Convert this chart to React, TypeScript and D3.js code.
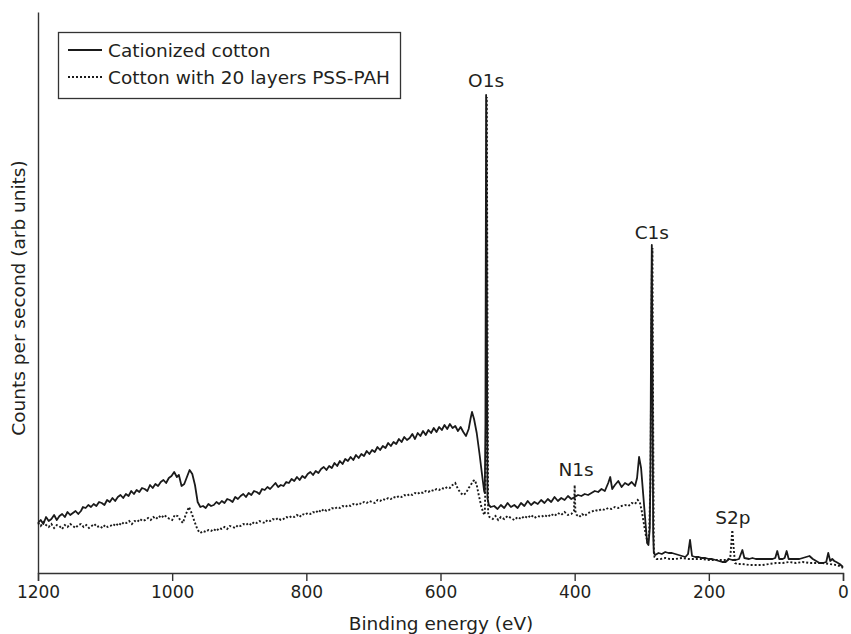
import React, { useEffect, useRef } from "react";
import * as d3 from "d3";

// XPS survey spectra: [binding energy (eV), counts (arb. units)]
const cationized: [number, number][] = [
  [1200, 50], [1196, 53], [1192, 49], [1188, 56], [1184, 52], [1180, 54], [1176, 58], [1172, 53],
  [1168, 57], [1164, 59], [1160, 56], [1156, 61], [1152, 58], [1148, 60], [1144, 62], [1140, 59],
  [1136, 62], [1133, 66], [1129, 65], [1125, 68], [1121, 66], [1117, 69], [1113, 67], [1109, 71],
  [1105, 70], [1101, 68], [1097, 73], [1093, 71], [1089, 75], [1085, 72], [1081, 76], [1077, 78],
  [1073, 75], [1069, 79], [1065, 77], [1061, 82], [1057, 79], [1053, 83], [1049, 81], [1045, 85],
  [1041, 84], [1037, 82], [1033, 88], [1029, 85], [1025, 89], [1021, 87], [1017, 91], [1013, 93],
  [1009, 90], [1005, 95], [1001, 97], [997, 101], [993, 96], [990, 98], [986, 87], [982, 89],
  [978, 96], [974, 103], [970, 99], [966, 88], [962, 71], [958, 66], [954, 67], [950, 65],
  [946, 69], [942, 67], [938, 68], [934, 71], [930, 69], [926, 72], [922, 70], [918, 74],
  [914, 73], [910, 71], [906, 76], [902, 74], [898, 77], [894, 79], [890, 76], [886, 80],
  [882, 78], [878, 82], [874, 81], [870, 79], [866, 84], [862, 83], [858, 86], [854, 84],
  [850, 87], [846, 90], [842, 86], [838, 88], [834, 87], [830, 91], [826, 90], [822, 94],
  [818, 92], [814, 96], [810, 93], [806, 97], [802, 95], [798, 99], [794, 101], [790, 98],
  [786, 102], [782, 100], [778, 104], [774, 106], [770, 103], [766, 107], [762, 105], [758, 110],
  [754, 107], [750, 112], [746, 109], [742, 114], [738, 112], [734, 116], [730, 113], [726, 118],
  [722, 115], [718, 119], [714, 117], [710, 122], [706, 119], [702, 123], [698, 121], [694, 126],
  [690, 123], [686, 127], [682, 125], [678, 130], [674, 127], [670, 131], [666, 129], [662, 134],
  [658, 131], [654, 136], [650, 133], [646, 135], [642, 139], [638, 134], [634, 140], [630, 137],
  [626, 142], [622, 138], [618, 143], [614, 140], [610, 145], [606, 141], [602, 146], [598, 143],
  [594, 148], [590, 144], [586, 149], [582, 145], [578, 147], [574, 142], [570, 146], [566, 141],
  [562, 137], [558, 144], [555, 155], [553, 161], [550, 154], [546, 140], [542, 120], [538, 98],
  [535, 82], [534, 80], [533, 150], [532, 478], [531, 300], [530, 75], [528, 68], [525, 66],
  [520, 67], [515, 64], [510, 68], [505, 65], [500, 70], [495, 66], [490, 68], [485, 65],
  [480, 70], [475, 67], [470, 72], [465, 68], [460, 71], [455, 69], [450, 73], [445, 70],
  [440, 74], [435, 71], [430, 76], [425, 72], [420, 75], [415, 73], [410, 77], [405, 74],
  [400, 76], [395, 78], [390, 77], [385, 79], [380, 78], [375, 80], [370, 82], [365, 81],
  [360, 84], [355, 82], [350, 90], [347, 96], [344, 84], [340, 88], [335, 92], [330, 86],
  [325, 90], [320, 88], [315, 91], [310, 87], [307, 95], [304, 116], [301, 105], [298, 80],
  [295, 55], [292, 30], [290, 28], [288, 45], [287, 110], [286, 250], [285, 328], [284, 200],
  [283, 40], [282, 20], [280, 18], [275, 20], [270, 19], [265, 21], [260, 20], [255, 20],
  [250, 19], [245, 18], [240, 17], [235, 16], [231, 19], [228, 33], [225, 17], [220, 16],
  [215, 16], [210, 15], [205, 15], [200, 14], [195, 14], [190, 13], [185, 12], [180, 11],
  [175, 11], [170, 14], [165, 13], [160, 13], [155, 14], [150, 23], [147, 15], [140, 14],
  [135, 15], [130, 14], [125, 14], [120, 14], [115, 14], [110, 14], [105, 14], [101, 15],
  [98, 22], [95, 14], [90, 14], [87, 15], [84, 22], [81, 14], [75, 14], [70, 14],
  [65, 14], [60, 15], [55, 16], [50, 17], [45, 14], [40, 12], [35, 10], [30, 10],
  [25, 11], [22, 20], [19, 12], [16, 14], [13, 12], [10, 11], [5, 9], [0, 6],
];

const layered: [number, number][] = [
  [1200, 50], [1196, 47], [1192, 51], [1188, 48], [1184, 46], [1180, 49], [1176, 45], [1172, 48],
  [1168, 47], [1164, 44], [1160, 48], [1156, 46], [1152, 49], [1148, 47], [1144, 45], [1140, 48],
  [1136, 49], [1132, 46], [1128, 48], [1124, 45], [1120, 47], [1116, 49], [1112, 46], [1108, 47],
  [1104, 45], [1100, 48], [1096, 46], [1092, 47], [1088, 49], [1084, 47], [1080, 50], [1076, 48],
  [1072, 51], [1068, 50], [1064, 52], [1060, 49], [1056, 52], [1052, 51], [1048, 54], [1044, 52],
  [1040, 53], [1036, 55], [1032, 53], [1028, 56], [1024, 54], [1020, 57], [1016, 55], [1012, 58],
  [1008, 56], [1004, 54], [1000, 53], [996, 58], [992, 57], [988, 53], [984, 50], [980, 58],
  [975, 66], [971, 60], [967, 52], [962, 43], [958, 40], [954, 42], [950, 41], [946, 43],
  [942, 42], [938, 44], [934, 42], [930, 45], [926, 44], [922, 46], [918, 44], [914, 47],
  [910, 46], [906, 45], [902, 48], [898, 47], [894, 49], [890, 48], [886, 50], [882, 48],
  [878, 51], [874, 50], [870, 52], [866, 51], [862, 50], [858, 53], [854, 52], [850, 54],
  [846, 53], [842, 55], [838, 53], [834, 54], [830, 56], [826, 55], [822, 57], [818, 56],
  [814, 58], [810, 56], [806, 59], [802, 58], [798, 60], [794, 59], [790, 61], [786, 60],
  [782, 63], [778, 61], [774, 64], [770, 62], [766, 63], [762, 65], [758, 64], [754, 66],
  [750, 65], [746, 67], [742, 66], [738, 68], [734, 67], [730, 69], [726, 68], [722, 70],
  [718, 69], [714, 71], [710, 70], [706, 72], [702, 71], [698, 70], [694, 73], [690, 72],
  [686, 74], [682, 73], [678, 75], [674, 74], [670, 76], [666, 75], [662, 77], [658, 76],
  [654, 78], [650, 77], [646, 79], [642, 78], [638, 80], [634, 79], [630, 81], [626, 80],
  [622, 82], [618, 81], [614, 83], [610, 82], [606, 84], [602, 83], [598, 85], [594, 84],
  [590, 86], [586, 85], [582, 88], [578, 90], [574, 84], [570, 80], [566, 78], [562, 80],
  [558, 85], [555, 88], [551, 92], [549, 93], [546, 88], [543, 78], [539, 66], [536, 60],
  [534, 58], [532, 120], [531, 476], [530, 250], [529, 60], [527, 56], [522, 54], [518, 57],
  [514, 53], [510, 56], [505, 54], [500, 57], [495, 55], [490, 53], [485, 56], [480, 54],
  [475, 57], [470, 55], [465, 58], [460, 55], [455, 57], [450, 56], [445, 58], [440, 56],
  [435, 59], [430, 57], [425, 60], [420, 58], [415, 61], [410, 58], [405, 59], [401, 62],
  [400, 88], [399, 62], [397, 58], [393, 56], [389, 59], [385, 57], [380, 60], [375, 61],
  [370, 63], [365, 62], [360, 64], [355, 63], [350, 65], [345, 64], [340, 66], [335, 65],
  [330, 67], [325, 68], [320, 67], [315, 70], [310, 69], [306, 73], [303, 71], [300, 62],
  [297, 50], [294, 38], [291, 30], [289, 40], [287, 90], [286, 200], [285, 300], [284, 325],
  [283, 150], [282, 25], [281, 16], [278, 14], [272, 14], [265, 15], [258, 14], [250, 14],
  [240, 15], [230, 14], [220, 14], [210, 14], [200, 13], [190, 13], [180, 13], [172, 13],
  [168, 16], [165, 43], [163, 25], [161, 10], [158, 9], [150, 9], [140, 8], [130, 8],
  [120, 8], [110, 9], [100, 10], [90, 10], [80, 11], [70, 10], [60, 11], [50, 10],
  [40, 10], [30, 10], [20, 9], [10, 8], [5, 7], [0, 5],
];

const energyTicks = [1200, 1000, 800, 600, 400, 200, 0];

const peakLabels = ["O1s", "C1s", "N1s", "S2p"];
const peakEnergies = [532, 285, 398, 164];
const peakLabelHeights = [486, 334, 97, 49];

const seriesNames = ["Cationized cotton", "Cotton with 20 layers PSS-PAH"];

const W = 851;
const H = 634;
const FONT = "'DejaVu Sans', 'Liberation Sans', Arial, sans-serif";
const INK = "#231f20";
const LINE = "#1a1a1a";

export default function App() {
  const ref = useRef<SVGSVGElement>(null);

  useEffect(() => {
    const svg = d3.select(ref.current);
    svg.selectAll("*").remove();

    const left = 38;
    const right = 843;
    const top = 12;
    const bottom = 573;

    const x = d3.scaleLinear().domain([1200, 0]).range([left, right]);
    const y = d3.scaleLinear().domain([0, 561]).range([bottom, top]);

    const line = d3
      .line<[number, number]>()
      .x((d) => x(d[0]))
      .y((d) => y(d[1]));

    // axes
    const xAxis = d3
      .axisBottom(x)
      .tickValues(energyTicks)
      .tickSize(8)
      .tickSizeOuter(8)
      .tickPadding(5)
      .tickFormat((d) => String(d));
    const gx = svg.append("g").attr("transform", `translate(0,${bottom})`).call(xAxis);
    gx.select(".domain").attr("stroke", "#333").attr("stroke-width", 1.4);
    gx.selectAll(".tick line").attr("stroke", "#333").attr("stroke-width", 1.4);
    gx.selectAll(".tick text")
      .attr("fill", INK)
      .style("font-family", FONT)
      .style("font-size", "17px");

    const yAxis = d3.axisLeft(y).tickValues([]).tickSizeOuter(0);
    const gy = svg.append("g").attr("transform", `translate(${left},0)`).call(yAxis);
    gy.select(".domain").attr("stroke", "#333").attr("stroke-width", 1.4);

    // series
    svg
      .append("path")
      .datum(layered)
      .attr("d", line)
      .attr("fill", "none")
      .attr("stroke", LINE)
      .attr("stroke-width", 1.9)
      .attr("stroke-dasharray", "2,2");

    svg
      .append("path")
      .datum(cationized)
      .attr("d", line)
      .attr("fill", "none")
      .attr("stroke", LINE)
      .attr("stroke-width", 1.8)
      .attr("stroke-linejoin", "round");

    // peak labels
    peakLabels.forEach((lab, i) => {
      svg
        .append("text")
        .attr("x", x(peakEnergies[i]))
        .attr("y", y(peakLabelHeights[i]))
        .attr("text-anchor", "middle")
        .attr("fill", INK)
        .style("font-family", FONT)
        .style("font-size", "18.5px")
        .text(lab);
    });

    // axis titles
    svg
      .append("text")
      .attr("x", 441)
      .attr("y", 630)
      .attr("text-anchor", "middle")
      .attr("fill", INK)
      .style("font-family", FONT)
      .style("font-size", "18.5px")
      .text("Binding energy (eV)");

    svg
      .append("text")
      .attr("transform", `translate(25,298) rotate(-90)`)
      .attr("text-anchor", "middle")
      .attr("fill", INK)
      .style("font-family", FONT)
      .style("font-size", "18.5px")
      .text("Counts per second (arb units)");

    // legend
    const lg = svg.append("g");
    lg.append("rect")
      .attr("x", 58.5)
      .attr("y", 32.5)
      .attr("width", 342)
      .attr("height", 66)
      .attr("fill", "#fff")
      .attr("stroke", "#333")
      .attr("stroke-width", 1.3);
    seriesNames.forEach((name, i) => {
      const ly = 50 + i * 27;
      lg.append("line")
        .attr("x1", 68)
        .attr("x2", 102)
        .attr("y1", ly)
        .attr("y2", ly)
        .attr("stroke", LINE)
        .attr("stroke-width", i === 0 ? 1.8 : 1.9)
        .attr("stroke-dasharray", i === 0 ? null : "2,2");
      lg.append("text")
        .attr("x", 108)
        .attr("y", ly + 7)
        .attr("fill", INK)
        .style("font-family", FONT)
        .style("font-size", "18.5px")
        .text(name);
    });
  }, []);

  return (
    <div style={{ position: "absolute", left: 0, top: 0 }}>
      <svg ref={ref} width={W} height={H} style={{ display: "block", background: "#fff" }} />
    </div>
  );
}
